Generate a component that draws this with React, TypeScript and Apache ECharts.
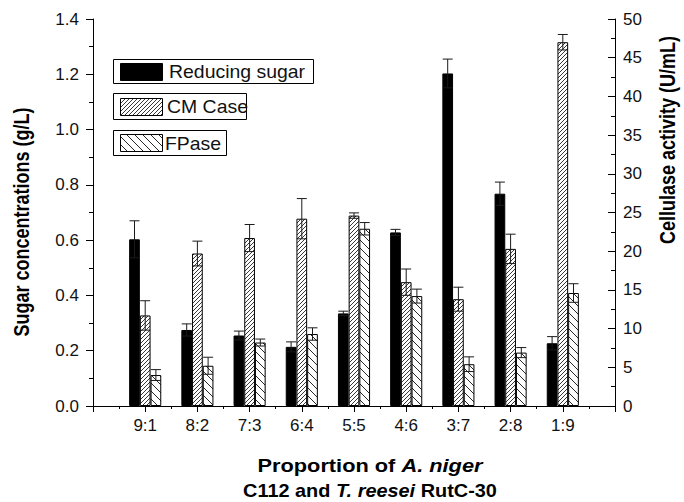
import React, { useEffect, useRef } from 'react';
import * as echarts from 'echarts';

// ---- data ----
const categories = ['9:1', '8:2', '7:3', '6:4', '5:5', '4:6', '3:7', '2:8', '1:9'];
const reducingSugar = [0.603, 0.275, 0.255, 0.214, 0.335, 0.628, 1.203, 0.768, 0.227];
const reducingSugarErr = [0.067, 0.022, 0.016, 0.018, 0.008, 0.011, 0.052, 0.042, 0.024];
const cmcase = [11.7, 19.7, 21.7, 24.2, 24.6, 16.0, 13.8, 20.3, 47.0];
const cmcaseErr = [1.9, 1.6, 1.75, 2.6, 0.35, 1.7, 1.55, 1.9, 1.0];
const fpase = [4.0, 5.2, 8.2, 9.3, 22.9, 14.2, 5.4, 6.9, 14.6];
const fpaseErr = [0.7, 1.1, 0.45, 0.8, 0.8, 0.9, 0.95, 0.65, 1.2];
const seriesNames = ['Reducing sugar', 'CM Case', 'FPase'];

const FONT = '"Liberation Sans", Arial, sans-serif';
const BAR_W = 10.7;

function makeHatch(size: number, dir: 'fwd' | 'back', color: string, lw: number) {
  const c = document.createElement('canvas');
  c.width = size;
  c.height = size;
  const ctx = c.getContext('2d')!;
  ctx.fillStyle = '#fff';
  ctx.fillRect(0, 0, size, size);
  ctx.strokeStyle = color;
  ctx.lineWidth = lw;
  ctx.beginPath();
  if (dir === 'fwd') {
    ctx.moveTo(-1, size + 1);
    ctx.lineTo(size + 1, -1);
    ctx.moveTo(-1, 1);
    ctx.lineTo(1, -1);
    ctx.moveTo(size - 1, size + 1);
    ctx.lineTo(size + 1, size - 1);
  } else {
    ctx.moveTo(-1, -1);
    ctx.lineTo(size + 1, size + 1);
    ctx.moveTo(size - 1, -1);
    ctx.lineTo(size + 1, 1);
    ctx.moveTo(-1, size - 1);
    ctx.lineTo(1, size + 1);
  }
  ctx.stroke();
  return { image: c, repeat: 'repeat', imageWidth: size, imageHeight: size } as any;
}

function errSeries(vals: number[], errs: number[], yAxisIndex: number, k: number) {
  return {
    type: 'custom',
    xAxisIndex: 0,
    yAxisIndex,
    silent: true,
    z: 5,
    encode: { x: 0, y: 1 },
    data: vals.map((v, i) => [i + 1, v, errs[i]]),
    renderItem: (_p: any, api: any) => {
      const x = api.value(0);
      const v = api.value(1);
      const e = api.value(2);
      const top = api.coord([x, v + e]);
      const bot = api.coord([x, v - e]);
      const cx = top[0] + (k - 1) * BAR_W;
      const hw = 5;
      const st = { stroke: '#1a1a1a', lineWidth: 1 };
      return {
        type: 'group',
        children: [
          { type: 'line', shape: { x1: cx, y1: top[1], x2: cx, y2: bot[1] }, style: st },
          { type: 'line', shape: { x1: cx - hw, y1: top[1], x2: cx + hw, y2: top[1] }, style: st },
          { type: 'line', shape: { x1: cx - hw, y1: bot[1], x2: cx + hw, y2: bot[1] }, style: st },
        ],
      };
    },
  };
}

export default function App() {
  const ref = useRef<HTMLDivElement>(null);
  useEffect(() => {
    document.body.style.margin = '0';
    const chart = echarts.init(ref.current!, null, { renderer: 'svg' });
    const cmPattern = makeHatch(4, 'fwd', '#222', 0.9);
    const fpPattern = makeHatch(8, 'back', '#111', 0.9);
    const axisCats = ['', ...categories, ''];
    const pad = (a: number[]) => ['-', ...a, '-'];

    const legendBox = (y: number, w: number, h: number, fill: any, name: string, sy: number, tx: number) => ({
      type: 'group',
      children: [
        { type: 'rect', shape: { x: 113.5, y, width: w, height: h }, style: { fill: '#fff', stroke: '#000', lineWidth: 1 } },
        { type: 'rect', shape: { x: 120.5, y: sy, width: 42, height: 17 }, style: { fill, stroke: '#000', lineWidth: 1 } },
        {
          type: 'text', x: tx, y: y + h / 2 + 0.5, scaleX: 1.08,
          style: { text: name, font: `18px ${FONT}`, fill: '#111', verticalAlign: 'middle', align: 'left' },
        },
      ],
    });

    const tickFont = { fontFamily: FONT, fontSize: 17, color: '#111' };

    const option: any = {
      animation: false,
      backgroundColor: '#fff',
      grid: { left: 93, right: 69, top: 19, bottom: 96, containLabel: false },
      xAxis: [
        {
          type: 'category',
          position: 'bottom',
          data: axisCats,
          boundaryGap: false,
          axisLine: { show: true, lineStyle: { color: '#000', width: 1 } },
          axisTick: { show: false },
          axisLabel: { interval: 0, ...tickFont, margin: 11 },
          splitLine: { show: false },
        },
        {
          type: 'value',
          position: 'bottom',
          min: 0,
          max: 10,
          interval: 1,
          axisLine: { show: false },
          axisTick: { show: true, length: 6, lineStyle: { color: '#000' } },
          minorTick: { show: true, splitNumber: 2, length: 3, lineStyle: { color: '#000' } },
          axisLabel: { show: false },
          splitLine: { show: false },
        },
      ],
      yAxis: [
        {
          type: 'value',
          position: 'left',
          min: 0,
          max: 1.4,
          interval: 0.2,
          axisLine: { show: true, lineStyle: { color: '#000' } },
          axisTick: { show: true, length: 7, lineStyle: { color: '#000' } },
          minorTick: { show: true, splitNumber: 2, length: 4, lineStyle: { color: '#000' } },
          axisLabel: { ...tickFont, margin: 14, formatter: (v: number) => v.toFixed(1) },
          splitLine: { show: false },
        },
        {
          type: 'value',
          position: 'right',
          min: 0,
          max: 50,
          interval: 5,
          axisLine: { show: true, lineStyle: { color: '#000' } },
          axisTick: { show: true, inside: true, length: 7, lineStyle: { color: '#000' } },
          minorTick: { show: true, splitNumber: 2, length: 4, lineStyle: { color: '#000' } },
          axisLabel: { ...tickFont, margin: 8 },
          splitLine: { show: false },
        },
      ],
      series: [
        {
          name: seriesNames[0], type: 'bar', xAxisIndex: 0, yAxisIndex: 0,
          data: pad(reducingSugar), barWidth: BAR_W, barGap: '0%',
          itemStyle: { color: '#000', borderColor: '#000', borderWidth: 1 },
        },
        {
          name: seriesNames[1], type: 'bar', xAxisIndex: 0, yAxisIndex: 1,
          data: pad(cmcase), barWidth: BAR_W, barGap: '0%',
          itemStyle: { color: cmPattern, borderColor: '#000', borderWidth: 1 },
        },
        {
          name: seriesNames[2], type: 'bar', xAxisIndex: 0, yAxisIndex: 1,
          data: pad(fpase), barWidth: BAR_W, barGap: '0%',
          itemStyle: { color: fpPattern, borderColor: '#000', borderWidth: 1 },
        },
        errSeries(reducingSugar, reducingSugarErr, 0, 0),
        errSeries(cmcase, cmcaseErr, 1, 1),
        errSeries(fpase, fpaseErr, 1, 2),
      ],
      graphic: [
        legendBox(59.5, 200, 24, '#000', seriesNames[0], 63.5, 169),
        legendBox(93.5, 133, 26, cmPattern, seriesNames[1], 98.5, 167),
        legendBox(130.5, 113, 25, fpPattern, seriesNames[2], 134.5, 165),
        {
          type: 'text', x: 21, y: 222, rotation: Math.PI / 2, scaleY: 1.22,
          style: { text: 'Sugar concentrations (g/L)', font: `bold 18px ${FONT}`, fill: '#000', align: 'center', verticalAlign: 'middle' },
        },
        {
          type: 'text', x: 667, y: 140, rotation: Math.PI / 2, scaleY: 1.22,
          style: { text: 'Cellulase activity (U/mL)', font: `bold 18px ${FONT}`, fill: '#000', align: 'center', verticalAlign: 'middle' },
        },
        {
          type: 'text', x: 370, y: 466, scaleX: 1.21,
          style: {
            text: '{b|Proportion of }{i|A. niger}',
            align: 'center', verticalAlign: 'middle',
            rich: {
              b: { font: `bold 18px ${FONT}`, fill: '#000' },
              i: { font: `italic bold 18px ${FONT}`, fill: '#000' },
            },
          },
        },
        {
          type: 'text', x: 370, y: 491, scaleX: 1.105,
          style: {
            text: '{b|C112 and }{i|T. reesei}{b| RutC-30}',
            align: 'center', verticalAlign: 'middle',
            rich: {
              b: { font: `bold 18px ${FONT}`, fill: '#000' },
              i: { font: `italic bold 18px ${FONT}`, fill: '#000' },
            },
          },
        },
      ],
    };
    chart.setOption(option);
    return () => chart.dispose();
  }, []);
  return <div ref={ref} style={{ width: 684, height: 502 }} />;
}
